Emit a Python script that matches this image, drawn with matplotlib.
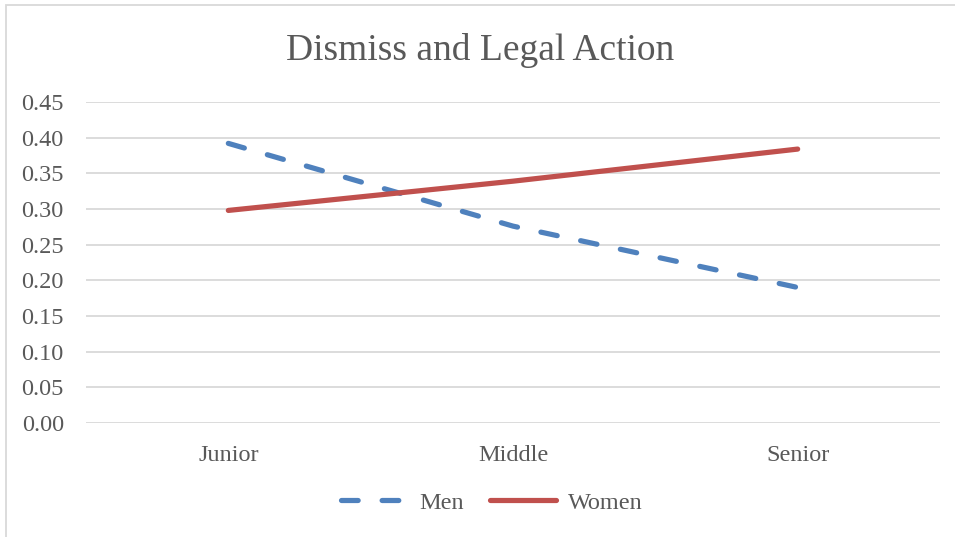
import matplotlib
matplotlib.use("Agg")
import matplotlib.pyplot as plt
from matplotlib.patches import Rectangle
from matplotlib.lines import Line2D

categories = ["Junior", "Middle", "Senior"]
men = [0.392, 0.276, 0.19]
women = [0.298, 0.339, 0.384]
yticks = [0.00, 0.05, 0.10, 0.15, 0.20, 0.25, 0.30, 0.35, 0.40, 0.45]

TXT = "#595959"
GRID = "#D9D9D9"
BLUE = "#4F81BD"
RED = "#C0504D"

plt.rcParams['font.family'] = ['Liberation Serif', 'DejaVu Serif']

W, H = 955, 537
fig = plt.figure(figsize=(W / 100, H / 100), dpi=100)
fig.patch.set_facecolor("white")

# chart border
fig.patches.append(Rectangle((6 / W, -0.1), 1.2, 1 - 5 / H + 0.1, transform=fig.transFigure,
                             fill=False, edgecolor=GRID, linewidth=1.3))

ax = fig.add_axes([86 / W, 1 - 423 / H, (940 - 86) / W, (423 - 102) / H])
x = list(range(len(categories)))
lw = 3.75
ax.plot(x, men, color=BLUE, linewidth=lw, dashes=(3.2, 4.6), dash_capstyle='round',
        solid_capstyle='round', zorder=3)
ax.plot(x, women, color=RED, linewidth=lw, solid_capstyle='round', zorder=3)

ax.set_xlim(-0.5, len(categories) - 0.5)
ax.set_ylim(0, 0.45)
ax.set_yticks(yticks)
ax.set_yticklabels([f"{v:.2f}" for v in yticks])
ax.set_xticks(x)
ax.set_xticklabels(categories)
ax.tick_params(axis='both', length=0, labelsize=17.5, labelcolor=TXT)
ax.tick_params(axis='y', pad=16)
ax.tick_params(axis='x', pad=16)
for s in ax.spines.values():
    s.set_visible(False)
ax.grid(axis='y', color=GRID, linewidth=1.3)
ax.set_axisbelow(True)

fig.text(0.5 * (6 / W + 1), 1 - 50 / H, "Dismiss and Legal Action", ha='center', va='center',
         fontsize=27, color=TXT)

handles = [Line2D([], [], color=BLUE, linewidth=lw, dashes=(3.2, 4.6), dash_capstyle='round'),
           Line2D([], [], color=RED, linewidth=lw, solid_capstyle='round')]
leg = fig.legend(handles, ["Men", "Women"], loc='center', bbox_to_anchor=(492 / W, 1 - 503 / H),
                 ncol=2, frameon=False, fontsize=17.5, handlelength=2.72, handletextpad=0.5,
                 columnspacing=1.07, labelcolor=TXT)

fig.savefig("out.png", dpi=100, facecolor="white")
